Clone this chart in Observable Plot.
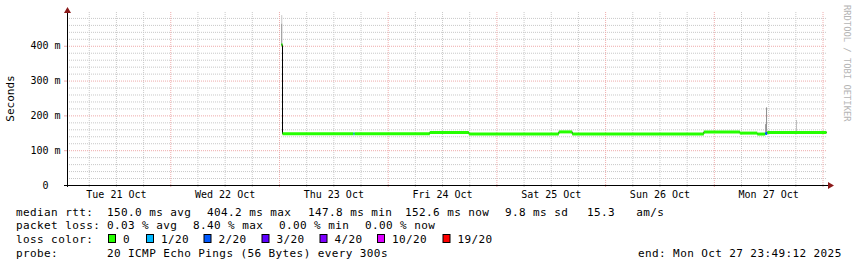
<!DOCTYPE html>
<html><head><meta charset="utf-8">
<script src="https://cdn.jsdelivr.net/npm/d3@7"></script>
<script src="https://cdn.jsdelivr.net/npm/@observablehq/plot@0.6"></script>
<style>
html,body{margin:0;padding:0;background:#fff;}
#chart svg{display:block;}
</style></head><body><div id="chart"></div>
<script>
// ---- data ----
const startTime = "2025-10-21T01:12";
const endTime = "2025-10-28T00:46";

// median rtt as steps (ms) and loss class index of each step
const stepTimes = ["2025-10-23T00:25","2025-10-23T00:40","2025-10-23T16:20","2025-10-23T16:35",
  "2025-10-24T09:11","2025-10-24T17:48","2025-10-25T13:40","2025-10-25T16:38",
  "2025-10-26T21:41","2025-10-27T05:38","2025-10-27T09:29","2025-10-27T11:15","2025-10-27T11:42"];
const stepValues = [404.2,148.5,148.5,148.5,152.5,148.3,154.0,147.9,154.0,150.6,147.8,149.5,152.6];
const stepLoss   = [0,0,1,0,0,0,0,0,0,0,0,2,0];

// smoke (ping spread) visible outside the median line
const smokeTimes = ["2025-10-23T00:30","2025-10-23T00:30","2025-10-27T11:19","2025-10-27T11:32","2025-10-27T18:09"];
const smokeLow   = [404,464,152,152,155];
const smokeHigh  = [464,488,175,223,187];
const smokeShade = ["#8c8c8c","#c8c8c8","#9a9a9a","#8c8c8c","#bdbdbd"];

const yTicks = [0,100,200,300,400];
const dayLabelTimes = ["2025-10-21T12:00","2025-10-22T12:00","2025-10-23T12:00","2025-10-24T12:00",
  "2025-10-25T12:00","2025-10-26T12:00","2025-10-27T12:00"];

const lossLabels = ["0","1/20","2/20","3/20","4/20","10/20","19/20"];
const lossColors = ["#26ff00","#00b8ff","#0059ff","#5e00ff","#7e00ff","#dd00ff","#ff0000"];

const rttTitle = "median rtt:";
const rttItems = ["150.0 ms avg","404.2 ms max","147.8 ms min","152.6 ms now","9.8 ms sd","15.3   am/s"];
const lossTitle = "packet loss:";
const lossItems = ["0.03 % avg","8.40 % max","0.00 % min","0.00 % now"];
const colorTitle = "loss color:";
const probeTitle = "probe:";
const probeText = "20 ICMP Echo Pings (56 Bytes) every 300s";
const endText = "end: Mon Oct 27 23:49:12 2025";
const yLabel = "Seconds";
const watermark = "RRDTOOL / TOBI OETIKER";

// ---- build ----
const parse = d3.utcParse("%Y-%m-%dT%H:%M");
const x0 = parse(startTime), x1 = parse(endTime);
const steps = stepTimes.map((t,i)=>({
  t0: parse(t),
  t1: i < stepTimes.length-1 ? parse(stepTimes[i+1]) : x1,
  v: stepValues[i],
  c: lossColors[stepLoss[i]]
}));
const linePts = steps.map(d=>({t:d.t0, v:d.v})).concat([{t:x1, v:stepValues[stepValues.length-1]}]);
const smoke = smokeTimes.map((t,i)=>({t:parse(t), lo:smokeLow[i], hi:smokeHigh[i], c:smokeShade[i]}));
const yMax = 497;
const minorX = d3.utcHour.every(6).range(x0, x1).filter(d=>d.getUTCHours()!==0);
const majorX = d3.utcDay.range(x0, x1);
const minorY = d3.range(20, yMax, 20).filter(v=>v%100!==0);
const majorY = d3.range(100, yMax, 100);
const font = "'DejaVu Sans Mono', monospace";
const minorCol = "#c8c8c8", majorCol = "#eeaaaa";

const plot = Plot.plot({
  width: 857, height: 267,
  marginLeft: 67, marginRight: 31, marginTop: 12, marginBottom: 82,
  style: {background:"#fff", fontFamily: font, overflow:"visible"},
  x: {type:"utc", domain:[x0,x1]},
  y: {domain:[0,yMax]},
  color: {type:"identity"},
  marks: [
    Plot.ruleX(minorX, {y1:-5.7, y2:yMax, stroke:minorCol, strokeDasharray:"1,1"}),
    Plot.ruleY(minorY, {stroke:minorCol, strokeDasharray:"1,1"}),
    Plot.ruleX(majorX, {y1:-5.7, y2:yMax, stroke:majorCol, strokeDasharray:"1,1"}),
    Plot.ruleY(majorY, {stroke:majorCol, strokeDasharray:"1,1"}),
    Plot.ruleX(smoke, {x:"t", y1:"lo", y2:"hi", stroke:"c", strokeWidth:1}),
    Plot.line(linePts, {x:"t", y:"v", curve:"step-after", stroke:"#000", strokeWidth:1}),
    Plot.link(steps, {x1:"t0", x2:"t1", y1:"v", y2:"v", stroke:"c", strokeWidth:3}),
    Plot.axisX(dayLabelTimes.map(parse), {tickSize:0, tickPadding:5, fontSize:10, fontFamily:font,
      tickFormat: d3.utcFormat("%a %d %b"), label:null, fill:"#000"}),
    Plot.axisY(yTicks, {tickSize:3, tickPadding:4, fontSize:10, fontFamily:font, stroke:majorCol,
      tickFormat: d => d===0 ? "0\u00a0\u00a0" : d+" m", label:null, fill:"#000"}),
    Plot.ruleY([0], {stroke:"#000"}),
    Plot.ruleX([x0], {y1:-5.7, y2:yMax, stroke:"#000"})
  ]
});
document.getElementById("chart").appendChild(plot);

const svg = d3.select(plot);
const sx = plot.scale("x"), sy = plot.scale("y");
const axY = sy.apply(0), axX = sx.apply(x0), rightX = sx.apply(x1), topY = sy.apply(yMax);
// axis extensions + arrows
svg.append("line").attr("x1", axX-3).attr("x2", rightX+3).attr("y1", axY+0.5).attr("y2", axY+0.5).attr("stroke","#000");
svg.append("path").attr("d", `M${rightX+2},${axY-3}L${rightX+8},${axY+0.5}L${rightX+2},${axY+4}Z`).attr("fill","#8b1a1a");
svg.append("path").attr("d", `M${axX-3},${topY+1}L${axX+0.5},${topY-5}L${axX+4},${topY+1}Z`).attr("fill","#8b1a1a");

// y label
svg.append("text").attr("transform", `translate(14,${(topY+axY)/2}) rotate(-90)`)
  .attr("text-anchor","middle").attr("font-family",font).attr("font-size",11).text(yLabel);
// watermark
svg.append("text").attr("transform", `translate(844,5) rotate(90)`).attr("text-anchor","start")
  .attr("font-family",font).attr("font-size",8.8).attr("fill","#b4b4b4").text(watermark);

// legend
const lg = svg.append("g").attr("font-family",font).attr("font-size",11).attr("letter-spacing","0.4px")
  .attr("text-anchor","start").style("white-space","pre").attr("fill","#000");
const rowY = [215.5, 229, 243, 256.5];
const col0 = 16;
lg.append("text").attr("x",col0).attr("y",rowY[0]).text(rttTitle);
const rttX = [107, 207, 308, 405, 505, 587];
rttItems.forEach((s,i)=>lg.append("text").attr("x",rttX[i]).attr("y",rowY[0]).text(s));
lg.append("text").attr("x",col0).attr("y",rowY[1]).text(lossTitle);
const lossX = [107, 193, 279, 365];
lossItems.forEach((s,i)=>lg.append("text").attr("x",lossX[i]).attr("y",rowY[1]).text(s));
lg.append("text").attr("x",col0).attr("y",rowY[2]).text(colorTitle);
const boxX = [108, 146, 203.5, 261.5, 319.5, 377, 442.5];
lossLabels.forEach((s,i)=>{
  lg.append("rect").attr("x",boxX[i]+0.5).attr("y",234.5).attr("width",7).attr("height",8)
    .attr("fill",lossColors[i]).attr("stroke","#000").attr("stroke-width",1);
  lg.append("text").attr("x",boxX[i]+15).attr("y",rowY[2]).text(s);
});
lg.append("text").attr("x",col0).attr("y",rowY[3]).text(probeTitle);
lg.append("text").attr("x",107).attr("y",rowY[3]).text(probeText);
lg.append("text").attr("x",638).attr("y",rowY[3]).text(endText);
</script></body></html>
